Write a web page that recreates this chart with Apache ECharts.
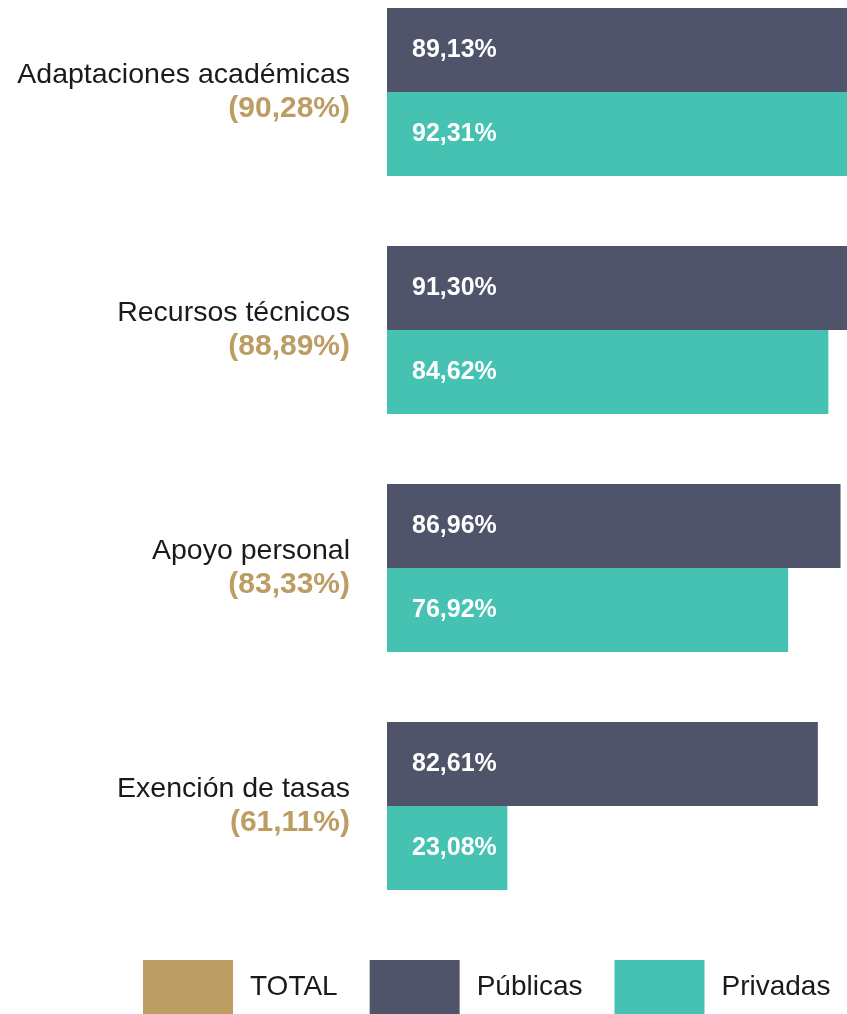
<!DOCTYPE html>
<html>
<head>
<meta charset="utf-8">
<style>html,body{margin:0;padding:0;background:#fff}#c{width:847px;height:1014px}</style>
<script src="https://cdn.jsdelivr.net/npm/echarts@6/dist/echarts.min.js"></script>
</head>
<body>
<div id="c"></div>
<script>
const categories = ['Adaptaciones académicas', 'Recursos técnicos', 'Apoyo personal', 'Exención de tasas'];
const totals = [90.28, 88.89, 83.33, 61.11];
const publicas = [89.13, 91.30, 86.96, 82.61];
const privadas = [92.31, 84.62, 76.92, 23.08];
const legendNames = ['TOTAL', 'Públicas', 'Privadas'];

const fmt = v => v.toFixed(2).replace('.', ',') + '%';
const FONT = '"Liberation Sans", Arial, Helvetica, sans-serif';

const chart = echarts.init(document.getElementById('c'), null, {renderer: 'canvas'});
const valueLabel = {
  show: true, position: 'insideLeft', distance: 25,
  color: '#ffffff', fontWeight: 'bold', fontSize: 25, fontFamily: FONT,
  formatter: p => fmt(p.value)
};
chart.setOption({
  animation: false,
  backgroundColor: '#ffffff',
  grid: {left: 387, right: 0, top: 92, bottom: 208, containLabel: false},
  xAxis: {type: 'value', min: 0, max: 88.2, show: false, splitLine: {show: false}},
  yAxis: {
    type: 'category', data: categories, inverse: true, boundaryGap: false,
    axisLine: {show: false}, axisTick: {show: false}, splitLine: {show: false},
    axisLabel: {
      margin: 37, align: 'right',
      formatter: (v, i) => '{n|' + v + '}\n{t|(' + fmt(totals[i]) + ')}',
      rich: {
        n: {fontSize: 28.5, fontFamily: FONT, color: '#1a1a1a', lineHeight: 34, align: 'right'},
        t: {fontSize: 30, fontFamily: FONT, fontWeight: 'bold', color: '#bc9d63', lineHeight: 34, align: 'right'}
      }
    }
  },
  legend: {
    data: legendNames, left: 143, top: 960, icon: 'rect', padding: 0,
    itemWidth: 90, itemHeight: 54, itemGap: 32,
    textStyle: {fontSize: 28, fontFamily: FONT, color: '#1a1a1a', padding: [4, 0, 0, 12]}
  },
  series: [
    {name: 'TOTAL', type: 'line', data: [], itemStyle: {color: '#bc9d63'}, lineStyle: {color: '#bc9d63'}},
    {name: 'Públicas', type: 'bar', data: publicas, barWidth: 84, barGap: '0%', clip: false,
     itemStyle: {color: '#4f546a'}, label: valueLabel},
    {name: 'Privadas', type: 'bar', data: privadas, barWidth: 84, barGap: '0%', clip: false,
     itemStyle: {color: '#45c2b1'}, label: valueLabel}
  ]
});
</script>
</body>
</html>
